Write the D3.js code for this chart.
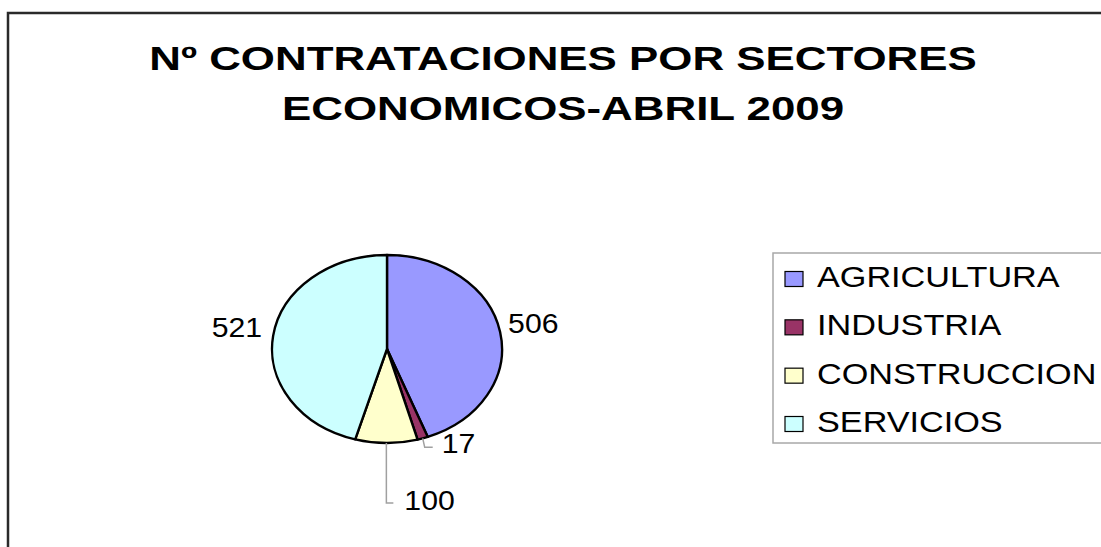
<!DOCTYPE html>
<html>
<head>
<meta charset="utf-8">
<script src="https://cdn.jsdelivr.net/npm/d3@7/dist/d3.min.js"></script>
<style>
  html, body { margin: 0; padding: 0; background: #fff; }
  svg { display: block; }
  text { font-family: "Liberation Sans", Arial, sans-serif; }
</style>
</head>
<body>
<svg id="chart" width="1101" height="547"></svg>
<script>
// ---- data ----
const categories = ["AGRICULTURA", "INDUSTRIA", "CONSTRUCCION", "SERVICIOS"];
const values = [506, 17, 100, 521];
const colors = ["#9999FF", "#993366", "#FFFFCC", "#CCFFFF"];
const titleLines = ["Nº CONTRATACIONES POR SECTORES", "ECONOMICOS-ABRIL 2009"];

// ---- layout ----
const W = 1101, H = 547;
const cx = 387, cy = 349, rx = 115, ry = 94;
// label placement per slice (offsets relative to the slice's mid-angle point on the rim)
const labelLayout = [
  { anchor: "start", dx: 8,  dy: 1,  leader: null },
  { anchor: "start", dx: 19, dy: 15, leader: [[2, 9], [10, 9]] },
  { anchor: "start", dx: 18, dy: 67, leader: [[0, 60], [7, 60]] },
  { anchor: "end",   dx: -11, dy: 1, leader: null }
];

const svg = d3.select("#chart");
svg.append("rect").attr("width", W).attr("height", H).attr("fill", "#fff");

// frame
svg.append("rect")
  .attr("x", 8).attr("y", 13)
  .attr("width", W + 20).attr("height", H + 20)
  .attr("fill", "none").attr("stroke", "#2a2a2a").attr("stroke-width", 2.5);

// title
const titleX = 563;
svg.selectAll("text.title")
  .data(titleLines)
  .join("text")
  .attr("class", "title")
  .attr("transform", (d, i) => `translate(${titleX},${70 + i * 49.5}) scale(1.29,1)`)
  .attr("text-anchor", "middle")
  .attr("font-size", 34)
  .attr("font-weight", "bold")
  .attr("fill", "#000")
  .text(d => d);

// pie
const pie = d3.pie().sort(null).value(d => d).startAngle(0).endAngle(2 * Math.PI);
const arcs = pie(values);
const arc = d3.arc().innerRadius(0).outerRadius(ry);

const pg = svg.append("g")
  .attr("transform", `translate(${cx},${cy}) scale(${rx / ry},1)`);
pg.selectAll("path")
  .data(arcs)
  .join("path")
  .attr("d", arc)
  .attr("fill", (d, i) => colors[i])
  .attr("stroke", "#000")
  .attr("stroke-width", 2.4)
  .attr("stroke-linejoin", "round")
  .attr("vector-effect", "non-scaling-stroke");

function rimPoint(a) {
  return [cx + Math.sin(a) * rx, cy - Math.cos(a) * ry];
}

// leaders
arcs.forEach((d, i) => {
  const L = labelLayout[i];
  if (!L.leader) return;
  const mid = (d.startAngle + d.endAngle) / 2;
  const p = rimPoint(mid);
  const pts = [p].concat(L.leader.map(o => [p[0] + o[0], p[1] + o[1]]));
  svg.append("path")
    .attr("d", d3.line()(pts))
    .attr("fill", "none")
    .attr("stroke", "#a0a0a0")
    .attr("stroke-width", 1.5);
});

// data labels
svg.selectAll("text.dl")
  .data(arcs)
  .join("text")
  .attr("class", "dl")
  .attr("transform", (d, i) => {
    const mid = (d.startAngle + d.endAngle) / 2;
    const p = rimPoint(mid);
    const L = labelLayout[i];
    return `translate(${p[0] + L.dx},${p[1] + L.dy}) scale(1.12,1)`;
  })
  .attr("text-anchor", (d, i) => labelLayout[i].anchor)
  .attr("font-size", 27)
  .attr("fill", "#000")
  .text(d => d.data);

// legend
const lgX = 773, lgY = 253, lgH = 190;
svg.append("rect")
  .attr("x", lgX).attr("y", lgY)
  .attr("width", W - lgX + 20).attr("height", lgH)
  .attr("fill", "#fff").attr("stroke", "#a8a8a8").attr("stroke-width", 1.5);

const rowY = d3.scalePoint().domain(categories).range([279, 424]);
const lg = svg.selectAll("g.li")
  .data(categories)
  .join("g")
  .attr("class", "li")
  .attr("transform", d => `translate(0,${rowY(d)})`);
lg.append("rect")
  .attr("x", 785).attr("y", -7.5)
  .attr("width", 18).attr("height", 15)
  .attr("fill", (d, i) => colors[i])
  .attr("stroke", "#000").attr("stroke-width", 1.2);
lg.append("text")
  .attr("transform", "translate(817,8) scale(1.18,1)")
  .attr("font-size", 29)
  .attr("fill", "#000")
  .text(d => d);
</script>
</body>
</html>
